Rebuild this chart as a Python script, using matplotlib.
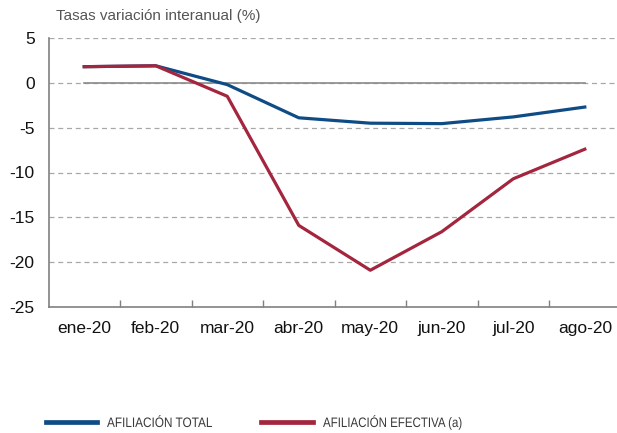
import matplotlib
matplotlib.use("Agg")
import matplotlib.pyplot as plt
from matplotlib.lines import Line2D
from matplotlib.textpath import TextPath
from matplotlib.patches import PathPatch
from matplotlib.font_manager import FontProperties
from matplotlib.transforms import Affine2D, IdentityTransform

months = ["ene-20", "feb-20", "mar-20", "abr-20", "may-20", "jun-20", "jul-20", "ago-20"]
afiliacion_total = [1.8, 1.9, -0.2, -3.9, -4.5, -4.55, -3.8, -2.7]
afiliacion_efectiva = [1.8, 1.9, -1.5, -15.9, -20.9, -16.6, -10.7, -7.4]
yticks = [5, 0, -5, -10, -15, -20, -25]

BLUE = "#0f4c86"
RED = "#a3263e"
GREY_TXT = "#3a3a3a"

W, H = 617, 433
plt.rcParams["font.family"] = ["Liberation Sans", "DejaVu Sans"]

fig = plt.figure(figsize=(W / 100, H / 100), dpi=100)
ax = fig.add_axes([48.5 / W, 1 - 307 / H, 1 - 48.5 / W, (307 - 38) / H])

x = list(range(len(months)))

# dashed horizontal grid
for y in yticks:
    if y == -25:
        continue
    ax.axhline(y, color="#a8a8a8", lw=0.9, ls=(0, (4, 3)), zorder=1)
# zero reference across the months
ax.plot(x, [0] * len(x), color="#8a8a8a", lw=1.2, zorder=2)

ax.plot(x, afiliacion_total, color=BLUE, lw=2.3, zorder=3)
ax.plot(x, afiliacion_efectiva, color=RED, lw=2.3, zorder=4)

ax.set_xlim(-0.5, 7.45)
ax.set_ylim(-25, 5)
ax.set_yticks(yticks)
ax.set_yticklabels([str(v) for v in yticks], fontsize=12.5, color="#111111")
ax.set_xticks(x)
ax.set_xticklabels(months, fontsize=12.5, color="#111111")
ax.tick_params(axis="y", length=0, pad=10)
ax.tick_params(axis="x", which="major", length=0, pad=10)
ax.set_xticks([i + 0.5 for i in range(len(months) - 1)], minor=True)
ax.tick_params(axis="x", which="minor", direction="in", length=5, color="#808080", width=1)

for s in ["top", "right"]:
    ax.spines[s].set_visible(False)
for s in ["left", "bottom"]:
    ax.spines[s].set_color("#808080")
    ax.spines[s].set_linewidth(1.2)

fig.text(56 / W, 1 - 16 / H, "Tasas variación interanual (%)", fontsize=11,
         color="#555555", va="center", ha="left")


def condensed_text(px, py_top, text, size_px, sx):
    """Draw text in a horizontally condensed sans face, positioned in pixels."""
    path = TextPath((0, 0), text, size=size_px,
                    prop=FontProperties(family="Liberation Sans"))
    cap = 0.729 * size_px
    tr = Affine2D().scale(sx, 1.0).translate(px, H - py_top - cap)
    patch = PathPatch(tr.transform_path(path), facecolor=GREY_TXT,
                      edgecolor="none", transform=IdentityTransform())
    fig.add_artist(patch)


# legend
ly = 1 - 421.5 / H
fig.add_artist(Line2D([46 / W, 97 / W], [ly, ly], color=BLUE, lw=3.4,
                      transform=fig.transFigure))
condensed_text(107, 417, "AFILIACIÓN TOTAL", 13.7, 0.86)
fig.add_artist(Line2D([261 / W, 313 / W], [ly, ly], color=RED, lw=3.4,
                      transform=fig.transFigure))
condensed_text(323, 417, "AFILIACIÓN EFECTIVA (a)", 13.7, 0.84)

fig.savefig("out.png", dpi=100)
